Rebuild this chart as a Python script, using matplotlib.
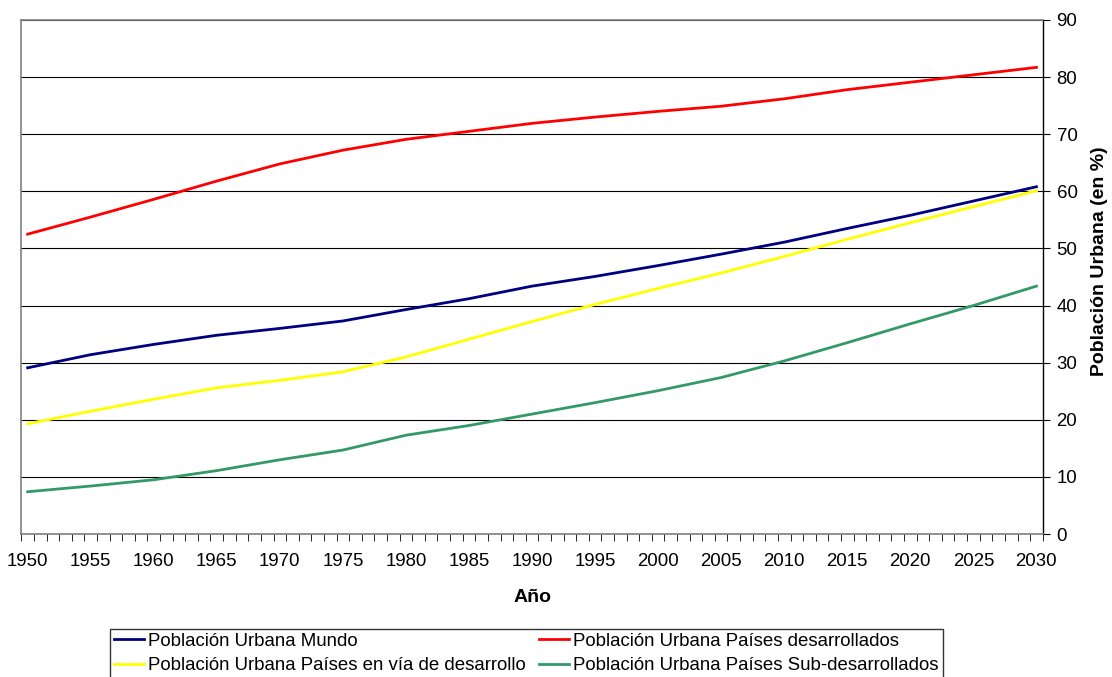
import matplotlib.pyplot as plt
from matplotlib.ticker import MultipleLocator

plt.rcParams['font.family'] = ['Liberation Sans', 'DejaVu Sans']

years = [1950, 1955, 1960, 1965, 1970, 1975, 1980, 1985, 1990,
         1995, 2000, 2005, 2010, 2015, 2020, 2025, 2030]
mundo = [29.1, 31.4, 33.2, 34.8, 36.0, 37.3, 39.3, 41.2, 43.4,
         45.1, 47.0, 49.0, 51.1, 53.5, 55.8, 58.3, 60.8]
desarrollados = [52.5, 55.5, 58.6, 61.8, 64.8, 67.2, 69.1, 70.5, 71.9,
                 73.0, 74.0, 74.9, 76.2, 77.8, 79.1, 80.4, 81.7]
en_via = [19.3, 21.5, 23.6, 25.6, 26.9, 28.4, 31.0, 34.1, 37.2,
          40.2, 43.0, 45.7, 48.6, 51.6, 54.5, 57.3, 60.1]
sub_desarrollados = [7.4, 8.4, 9.5, 11.1, 13.0, 14.7, 17.3, 19.0, 21.0,
                     23.0, 25.1, 27.4, 30.3, 33.5, 36.8, 40.0, 43.4]

labels = ["Población Urbana Mundo",
          "Población Urbana Países desarrollados",
          "Población Urbana Países en vía de desarrollo",
          "Población Urbana Países Sub-desarrollados"]

fig = plt.figure(figsize=(11.12, 6.77), dpi=100)
ax = fig.add_axes([0.0192, 0.2112, 0.9185, 0.7593])

l1, = ax.plot(years, mundo, color="#000080", lw=2.0, label=labels[0])
l2, = ax.plot(years, desarrollados, color="#FF0000", lw=2.0, label=labels[1])
l3, = ax.plot(years, en_via, color="#FFFF00", lw=2.0, label=labels[2])
l4, = ax.plot(years, sub_desarrollados, color="#339966", lw=2.0, label=labels[3])

# axes
ax.set_xlim(1949.5, 2030.5)
ax.set_ylim(0, 90)
ax.xaxis.set_major_locator(MultipleLocator(5))
ax.xaxis.set_minor_locator(MultipleLocator(1, offset=0.5))
ax.tick_params(axis="x", which="major", length=0, pad=14, labelsize=13.4)
ax.tick_params(axis="x", which="minor", length=5, direction="out", color="black")
ax.yaxis.tick_right()
ax.yaxis.set_label_position("right")
ax.yaxis.set_major_locator(MultipleLocator(10))
ax.tick_params(axis="y", length=5, direction="out", pad=5, labelsize=13.4, color="black")
ax.grid(axis="y", color="black", lw=0.8)
ax.set_axisbelow(True)

for s in ["left", "top", "bottom"]:
    ax.spines[s].set_color("#808080")
    ax.spines[s].set_linewidth(1.2)
ax.spines["right"].set_color("black")
ax.spines["right"].set_linewidth(1.0)

ax.set_xlabel("Año", fontsize=14, fontweight="bold", labelpad=13)
ax.set_ylabel("Población Urbana (en %)", fontsize=14, fontweight="bold")
ax.yaxis.set_label_coords(1.047, 0.53)

leg = fig.legend([l1, l3, l2, l4], [labels[0], labels[2], labels[1], labels[3]],
                 ncol=2, loc="upper left", bbox_to_anchor=(110/1112, 1 - 629/677),
                 fontsize=13.4, frameon=True, fancybox=False, edgecolor="black",
                 handlelength=1.6, handletextpad=0.25, columnspacing=0.7,
                 labelspacing=0.4, borderpad=0.2, borderaxespad=0)
leg.get_frame().set_linewidth(1.0)

plt.savefig("out.png", dpi=100)
